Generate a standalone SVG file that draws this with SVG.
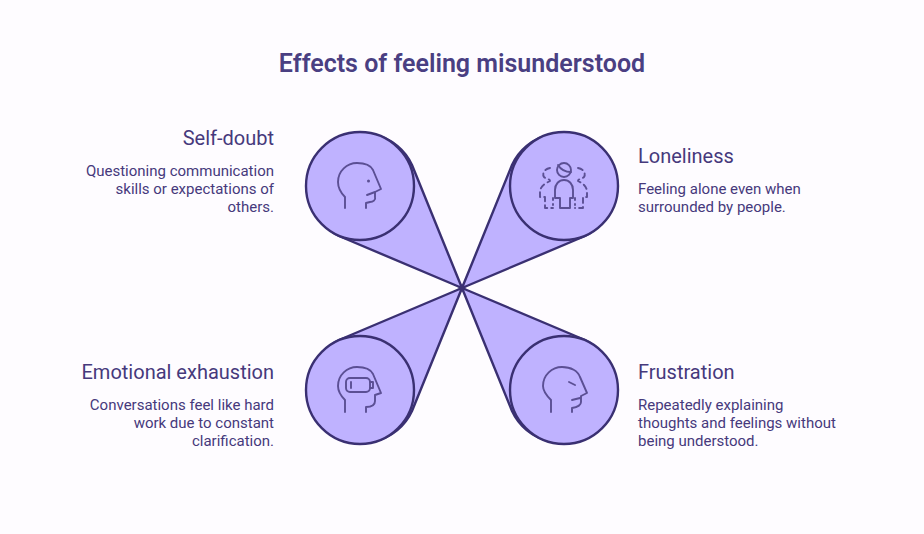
<svg xmlns="http://www.w3.org/2000/svg" width="924" height="534" viewBox="0 0 924 534">
<style>
text{font-family:Roboto,"Liberation Sans",sans-serif}
.title{font-size:25px;font-weight:600;fill:#4a3f82}
.head{font-size:20px;fill:#46397c}
.body{font-size:15px;fill:#46397c}
.r{text-anchor:end}
.petal{fill:#bfb2ff;stroke:#3a3072;stroke-width:2.4;stroke-linejoin:round}
.disc{fill:#bfb2ff;stroke:#3a3072;stroke-width:2.4}
.icon{fill:none;stroke:#5b4f94;stroke-width:1.9;stroke-linecap:round;stroke-linejoin:round}
.dash{stroke-dasharray:5 4}
</style>
<rect width="924" height="534" fill="#fefcff"/>
<text class="title" x="462" y="72" text-anchor="middle">Effects of feeling misunderstood</text>
<g id="connectors">
<path class="petal" d="M462 288L339 236A54 54 0 1 1 412 165Z"/>
<path class="petal" d="M462 288L585 236A54 54 0 1 0 512 165Z"/>
<path class="petal" d="M462 288L339 340A54 54 0 1 0 412 411Z"/>
<path class="petal" d="M462 288L585 340A54 54 0 1 1 512 411Z"/>
<path d="M462 283.500L463.300 286.700L466.500 288L463.300 289.300L462 292.500L460.700 289.300L457.500 288L460.700 286.700Z" fill="#3a3072"/>
</g>
<g id="self-doubt">
<circle class="disc" cx="360" cy="186" r="54"/>
<path class="icon" d="M345 208V197C340 192 338 187 338 182C338 171 347 163 357 163C365 163 371 166 373 170L381 189L375 192V197C376 200 373 202 370 202L366 203V208M367 195L375 192"/>
<circle cx="368.500" cy="181" r="1.500" fill="#5b4f94"/>
<text class="head r" x="274" y="145">Self-doubt</text>
<text class="body r" x="274" y="176">Questioning communication</text>
<text class="body r" x="274" y="194">skills or expectations of</text>
<text class="body r" x="274" y="212">others.</text>
</g>
<g id="loneliness">
<circle class="disc" cx="564" cy="186" r="54"/>
<circle class="icon" cx="564" cy="170" r="7"/>
<path class="icon" d="M558 165C561 170 566 172 571 172M555 198V190C555 184 559 180 564 180C569 180 573 184 573 190V198H570V208H560V198Z"/>
<path class="icon dash" d="M550 168C544 169 542 174 544 177C546 179 550 179 550 181C546 183 540 186 540 192V197H545V208H553M578 168C584 169 586 174 584 177C582 179 578 179 578 181C582 183 587 186 587 192V197H583V208H575"/>
<path class="icon" d="M553 198V200M553 204V205M575 198V200M575 204V205"/>
<text class="head" x="638" y="163">Loneliness</text>
<text class="body" x="638" y="194">Feeling alone even when</text>
<text class="body" x="638" y="212">surrounded by people.</text>
</g>
<g id="emotional-exhaustion">
<circle class="disc" cx="360" cy="390" r="54"/>
<path class="icon" d="M345 412V400C340 395 338 391 338 386C338 375 347 367 357 367C365 367 371 370 373 374L381 393L375 395V401C375 405 372 407 366 407V412"/>
<rect class="icon" x="346" y="378" width="24" height="14" rx="4"/>
<path class="icon" d="M351 382V388M370 382H373V388H370"/>
<text class="head r" x="274" y="379">Emotional exhaustion</text>
<text class="body r" x="274" y="410">Conversations feel like hard</text>
<text class="body r" x="274" y="428">work due to constant</text>
<text class="body r" x="274" y="446">clarification.</text>
</g>
<g id="frustration">
<circle class="disc" cx="564" cy="390" r="54"/>
<path class="icon" d="M551 412V400C546 395 543 391 543 386C543 375 552 367 562 367C571 367 578 371 580 377L587 393L581 396V402C581 405 578 407 572 408V412M572 400L580 398M569 382L575 385"/>
<text class="head" x="638" y="379">Frustration</text>
<text class="body" x="638" y="410">Repeatedly explaining</text>
<text class="body" x="638" y="428">thoughts and feelings without</text>
<text class="body" x="638" y="446">being understood.</text>
</g>
</svg>
